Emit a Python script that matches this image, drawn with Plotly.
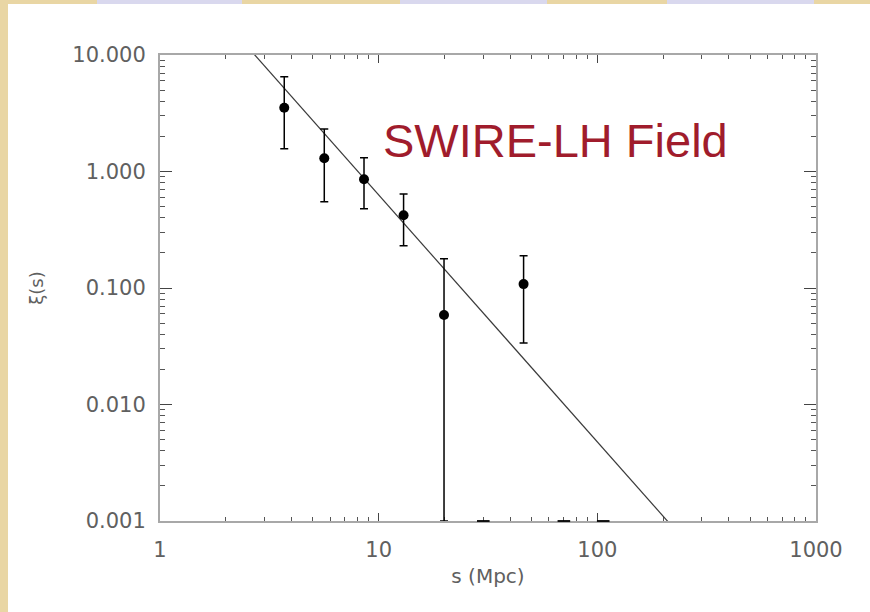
import numpy as np
import plotly.graph_objects as go

# Two-point correlation function of the SWIRE-LH field
s_bins = [3.70, 5.64, 8.57, 13.0, 19.9, 46.0]          # separation s (Mpc)
xi_vals = [3.53, 1.30, 0.857, 0.421, 0.0587, 0.108]    # xi(s)
xi_upper = [6.51, 2.32, 1.31, 0.641, 0.1785, 0.189]    # upper end of error bar
xi_lower = [1.57, 0.55, 0.479, 0.231, 0.001, 0.0337]   # lower end of error bar

# Bins whose xi(s) is not positive: only the bar end shows, on the lower frame
s_nonpos = [30.1, 70.3, 106.4]

# Power-law fit xi(s) = (s / s0)^-gamma
s0 = 8.04
gamma = 2.12
s_fit = [1.0, 1000.0]

x_tickvals = [1, 10, 100, 1000]
x_ticktext = ["1", "10", "100", "1000"]
y_tickvals = [10, 1, 0.1, 0.01, 0.001]
y_ticktext = ["10.000", "1.000", "0.100", "0.010", "0.001"]

W, H = 870, 612
ML, MR, MT, MB = 160, 54, 55, 91
PW, PH = W - ML - MR, H - MT - MB


def px_x(p):
    return (p - ML) / PW


def px_y(p):
    return (H - MB - p) / PH


xi_arr = np.array(xi_vals)
err_plus = np.array(xi_upper) - xi_arr
err_minus = xi_arr - np.array(xi_lower)
xi_fit = (np.array(s_fit) / s0) ** (-gamma)

fig = go.Figure()

fig.add_trace(go.Scatter(
    x=s_fit, y=xi_fit, mode="lines",
    line=dict(color="#3a3a3a", width=1.2),
    hoverinfo="skip", showlegend=False,
))

fig.add_trace(go.Scatter(
    x=s_bins, y=xi_vals, mode="markers",
    marker=dict(color="black", size=10),
    error_y=dict(type="data", symmetric=False, array=err_plus,
                 arrayminus=err_minus, color="black", thickness=1.5, width=4),
    cliponaxis=False, showlegend=False,
))

fig.add_trace(go.Scatter(
    x=s_nonpos, y=[0.001] * len(s_nonpos), mode="markers",
    marker=dict(symbol="line-ew", size=9,
                line=dict(color="black", width=1.8)),
    cliponaxis=False, showlegend=False, hoverinfo="skip",
))

axis_font = dict(family="DejaVu Sans", size=21, color="#606060")

fig.update_xaxes(
    type="log", range=[0, 3],
    tickvals=x_tickvals, ticktext=x_ticktext,
    ticks="inside", ticklen=8, tickwidth=1, tickcolor="#444",
    minor=dict(ticks="inside", ticklen=4, tickwidth=1, tickcolor="#555",
               dtick="D1", showgrid=False),
    showline=True, linecolor="#a8a8a8", linewidth=2, mirror="ticks",
    showgrid=False, zeroline=False, layer="below traces",
    tickfont=axis_font, ticklabelstandoff=9,
    title=dict(text="s (Mpc)", font=dict(family="DejaVu Sans", size=20,
                                         color="#606060"), standoff=8),
)

fig.update_yaxes(
    type="log", range=[-3, 1],
    tickvals=y_tickvals, ticktext=y_ticktext,
    ticks="inside", ticklen=12, tickwidth=1, tickcolor="#444",
    minor=dict(ticks="inside", ticklen=5, tickwidth=1, tickcolor="#555",
               dtick="D1", showgrid=False),
    showline=True, linecolor="#a8a8a8", linewidth=2, mirror="ticks",
    showgrid=False, zeroline=False, layer="below traces",
    tickfont=axis_font, ticklabelstandoff=8,
    title=dict(text="ξ(s)", font=dict(family="DejaVu Sans", size=18,
                                      color="#606060"), standoff=24),
)

# Slide background: parchment border, white panel, lavender tabs on top
shapes = [
    dict(type="rect", xref="paper", yref="paper", layer="below",
         x0=px_x(8), x1=px_x(W + 10), y0=px_y(H + 10), y1=px_y(4),
         fillcolor="white", line=dict(width=0)),
]
for a, b in [(97, 242), (400, 547), (667, 814)]:
    shapes.append(dict(type="rect", xref="paper", yref="paper", layer="below",
                       x0=px_x(a), x1=px_x(b), y0=px_y(4), y1=px_y(-2),
                       fillcolor="#d9d8ee", line=dict(width=0)))

fig.update_layout(
    width=W, height=H,
    margin=dict(l=ML, r=MR, t=MT, b=MB, autoexpand=False),
    paper_bgcolor="#e9d6a4", plot_bgcolor="white",
    shapes=shapes,
    annotations=[dict(
        x=px_x(555), y=px_y(140), xref="paper", yref="paper",
        text="SWIRE-LH Field", showarrow=False,
        font=dict(family="Liberation Sans", size=47, color="#a01c2c"),
        xanchor="center", yanchor="middle",
    )],
)

fig.write_html("out.html")
